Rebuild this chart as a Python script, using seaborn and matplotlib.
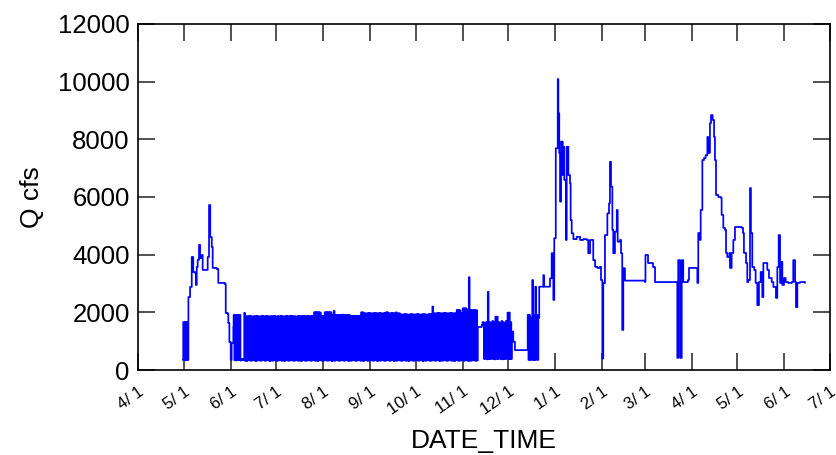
import numpy as np
import pandas as pd
import matplotlib
matplotlib.use("Agg")
import matplotlib.pyplot as plt
import seaborn as sns

# flow record, time in days counted from 1 Apr of the first year

# spring rise, end of April to early June
rise_days = [29.6, 29.8, 30.3, 30.6, 31.1, 31.5, 32.0, 32.4, 32.9, 33.2,
             34.3, 35.4, 36.4, 37.6, 38.2, 38.7, 39.3, 40.2, 40.9, 42.0,
             42.6, 45.3, 45.9, 46.8, 47.6, 48.6, 49.2, 51.9, 52.9, 57.3,
             57.8, 59.1, 59.5, 60.2, 61.1, 61.7, 62.8]
rise_q = [350, 1660, 350, 1660, 350, 1660, 350, 1660, 350, 2530,
          2880, 3920, 3400, 3360, 2950, 3570, 3820, 4340, 3880, 3990,
          3470, 3470, 3920, 5720, 4610, 4270, 3540, 3500, 3020, 2980,
          1980, 1940, 1630, 970, 350, 940, 1490]

# daily peaking, June - November (daily high and low)
band1_start = 63
band1_hi = [1910, 1910, 1910, 1910, 1910, 380, 380, 1980, 1870, 1860,
            1870, 1880, 1850, 1870, 1860, 1880, 1870, 1850, 1870, 1880,
            1860, 1870, 1880, 1850, 1870, 1860, 1870, 1880, 1850, 1870,
            1860, 1880, 1870, 1850, 1870, 1880, 1860, 1870, 1880, 1860,
            1870, 1850, 1870, 1880, 1860, 1870, 1880, 1860, 1870, 1880,
            1860, 1870, 1880, 2000, 2010, 2000, 2010, 1990, 1880, 1870,
            2000, 2010, 2000, 2010, 2000, 1900, 2050, 1910, 1900, 1910,
            1900, 1910, 1920, 1900, 1910, 1900, 1910, 1880, 1880, 1870,
            1880, 1880, 1870, 1880, 2000, 2000, 1970, 1960, 1970, 1980,
            1970, 1960, 1970, 1980, 1970, 1960, 1980, 1970, 1960, 1970,
            1990, 2010, 1970, 1960, 1980, 1970, 1970, 2000, 1960, 1970,
            1930, 1920, 1930, 1940, 1930, 1920, 1930, 1940, 1930, 1920,
            1930, 1940, 1930, 1920, 1930, 1940, 1930, 1920, 1930, 1940,
            1930, 2200, 1970, 1960, 1970, 1980, 1970, 1960, 1970, 1980,
            1970, 1960, 1970, 1980, 1970, 1960, 1970, 2080, 2080, 2070,
            1970, 2140, 2140, 2140, 2080, 3220, 2080, 2070, 2080, 2080,
            2070]
band1_lo = [340, 330, 350, 340, 330, 350, 350, 320, 310, 340,
            330, 320, 340, 330, 310, 330, 340, 320, 330, 350,
            320, 330, 340, 310, 330, 320, 340, 330, 320, 330,
            340, 320, 330, 310, 340, 330, 320, 340, 330, 320,
            330, 340, 320, 330, 310, 340, 330, 320, 330, 340,
            320, 330, 340, 320, 330, 310, 340, 330, 320, 330,
            340, 320, 330, 340, 310, 330, 320, 340, 330, 320,
            330, 340, 320, 330, 340, 310, 330, 320, 340, 330,
            320, 330, 340, 320, 330, 310, 340, 330, 320, 330,
            340, 320, 330, 340, 310, 330, 320, 340, 330, 320,
            330, 340, 320, 330, 340, 310, 330, 320, 340, 330,
            320, 330, 340, 320, 330, 310, 340, 330, 320, 330,
            340, 320, 330, 340, 310, 330, 320, 340, 330, 320,
            330, 340, 320, 330, 340, 310, 330, 320, 340, 330,
            320, 330, 340, 320, 330, 310, 340, 330, 320, 330,
            340, 320, 330, 340, 310, 330, 320, 340, 330, 320,
            330]

gap1_days = [223.9, 226.5, 227.0]
gap1_q = [1490, 1560, 1660]

band2_start = 227.5
band2_hi = [1660, 1640, 1660, 2710, 1660, 1640, 1700, 1660, 1850, 1850,
            1660, 1640, 1700, 1660, 1640, 1700, 1990, 1990, 1660]
band2_lo = [380, 400, 370, 390, 380, 400, 380, 370, 390, 380,
            400, 380, 370, 390, 380, 400, 380, 390, 380]

gap2_days = [246.3, 247.3, 248.4, 256.4]
gap2_q = [1330, 980, 690, 690]

band3_start = 256.8
band3_hi = [1910, 1910, 1800, 3120, 1910, 2890, 1910]
band3_lo = [350, 350, 360, 350, 350, 360, 350]

# winter and spring, late December to mid June
tail_days = [263.8, 264.4, 267.1, 267.5, 271.5, 272.6, 273.7, 274.3, 275.3, 276.6,
             277.0, 277.6, 278.1, 278.8, 279.9, 280.3, 280.9, 282.0, 282.5, 283.6,
             284.7, 285.1, 285.8, 286.9, 289.1, 291.3, 293.4, 295.7, 296.7, 297.9,
             299.0, 300.0, 301.2, 302.7, 304.4, 305.1, 306.0, 306.6, 307.7, 309.3,
             310.4, 311.0, 311.7, 312.6, 313.2, 314.3, 315.5, 316.1, 317.6, 318.3,
             319.1, 319.8, 320.9, 334.1, 334.4, 336.1, 339.4, 340.7, 355.2, 355.4,
             356.0, 357.2, 358.3, 359.3, 362.4, 363.1, 368.4, 368.6, 369.2, 370.3,
             370.8, 371.9, 373.0, 374.1, 375.2, 375.8, 376.9, 377.6, 378.7, 379.6,
             380.2, 380.9, 382.4, 384.2, 384.6, 385.7, 386.8, 387.5, 388.3, 389.7,
             390.1, 391.2, 392.3, 393.4, 397.8, 398.7, 399.3, 400.7, 401.5, 402.2,
             403.3, 403.9, 404.8, 406.1, 407.0, 408.1, 409.2, 410.3, 411.4, 412.1,
             413.6, 414.7, 415.8, 417.6, 418.7, 420.4, 421.3, 422.2, 423.1, 423.7,
             424.6, 425.7, 426.8, 428.5, 430.8, 431.8, 433.0, 433.6, 434.5, 436.2,
             439.5]
tail_q = [1810, 2890, 3290, 2890, 3180, 4050, 2430, 4570, 7690, 10090,
          8900, 7520, 5840, 7920, 6760, 7740, 6590, 4510, 7740, 6760,
          6470, 5200, 4740, 4540, 4620, 4510, 4540, 4510, 4050, 4510,
          4510, 3810, 3580, 3540, 3580, 3120, 400, 3010, 4680, 5430,
          5780, 7220, 6360, 4860, 4050, 4800, 5550, 4450, 4510, 4050,
          1390, 3530, 3100, 3050, 3990, 3710, 3570, 3050, 3050, 420,
          3810, 420, 3810, 3050, 3120, 3540, 3540, 3020, 4750, 4510,
          5550, 7280, 7350, 7450, 8080, 7530, 8560, 8840, 8670, 8080,
          7280, 6070, 6000, 5970, 5380, 4930, 4860, 4060, 3920, 4060,
          3540, 4060, 4510, 4960, 4930, 4750, 4060, 3710, 3050, 3120,
          6310, 4750, 3570, 3470, 3020, 2250, 3050, 3400, 2530, 3710,
          3710, 3470, 3190, 3050, 2880, 2500, 3570, 4680, 3020, 3750,
          2950, 3190, 3050, 3020, 3050, 3810, 3050, 2180, 3020, 3050,
          3020]

month_labels = ["4/ 1", "5/ 1", "6/ 1", "7/ 1", "8/ 1", "9/ 1", "10/ 1", "11/ 1",
                "12/ 1", "1/ 1", "2/ 1", "3/ 1", "4/ 1", "5/ 1", "6/ 1", "7/ 1"]
y_ticks = [0, 2000, 4000, 6000, 8000, 10000, 12000]


def band(start, hi, lo):
    d, q = [], []
    for i, (h, l) in enumerate(zip(hi, lo)):
        d += [start + i, start + i + 0.5]
        q += [h, l]
    return d, q


b1d, b1q = band(band1_start, band1_hi, band1_lo)
b2d, b2q = band(band2_start, band2_hi, band2_lo)
b3d, b3q = band(band3_start, band3_hi, band3_lo)

days = rise_days + b1d + gap1_days + b2d + gap2_days + b3d + tail_days
flow = rise_q + b1q + gap1_q + b2q + gap2_q + b3q + tail_q

t0 = pd.Timestamp("2010-04-01")
df = pd.DataFrame({"DATE_TIME": t0 + pd.to_timedelta(days, unit="D"), "Q": flow})

sns.set_theme(style="white")
plt.rcParams["font.family"] = ["Liberation Sans", "DejaVu Sans"]
plt.rcParams["text.color"] = "black"
plt.rcParams["axes.labelcolor"] = "black"

fig = plt.figure(figsize=(8.37, 4.55), dpi=100)
ax = fig.add_axes([0.1649, 0.1868, 0.8267, 0.7605])

sns.lineplot(data=df, x="DATE_TIME", y="Q", color="#0000ff", linewidth=1.25,
             estimator=None, sort=False, drawstyle="steps-post", ax=ax)

month_ticks = pd.date_range("2010-04-01", "2011-07-01", freq="MS")
ax.set_xlim(month_ticks[0], month_ticks[-1])
ax.set_xticks(month_ticks)
ax.set_xticklabels(month_labels, rotation=35, ha="right", rotation_mode="anchor",
                   fontsize=12)
ax.set_ylim(0, 12000)
ax.set_yticks(y_ticks)
ax.set_yticklabels([str(v) for v in y_ticks], fontsize=18.5)

ax.tick_params(axis="both", direction="in", length=12, width=1.2, color="#333333",
               labelcolor="black", top=True, right=True, bottom=True, left=True)
ax.tick_params(axis="x", pad=10)
ax.tick_params(axis="y", pad=6)
for s in ax.spines.values():
    s.set_color("black")
    s.set_linewidth(1.2)

ax.set_xlabel("DATE_TIME", fontsize=19, labelpad=8)
ax.set_ylabel("Q cfs", fontsize=19, labelpad=10)

fig.savefig("out.png", dpi=100)
